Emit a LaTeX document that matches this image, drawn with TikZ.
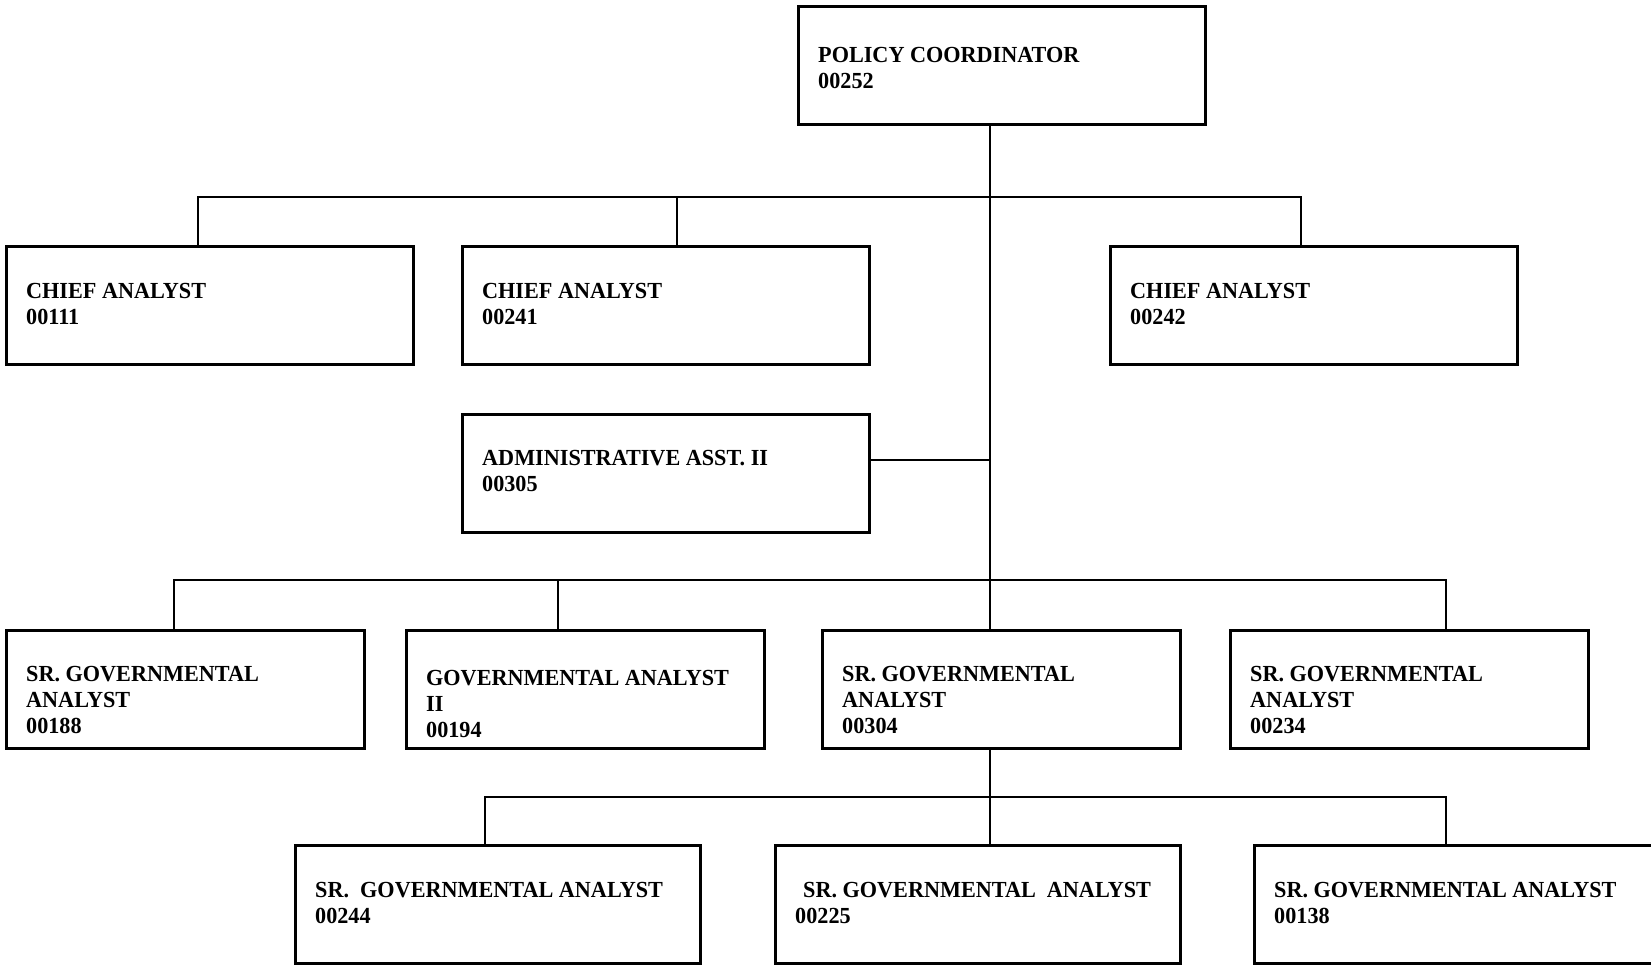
\documentclass[tikz,border=0pt]{standalone}
\usepackage{fontspec}
\setmainfont{Liberation Serif}[FakeStretch=0.965]
\begin{document}
\begin{tikzpicture}[x=1pt,y=-1pt,
  box/.style={draw, line width=2.6pt, anchor=north west, inner sep=0pt,
    minimum width=#1, minimum height=118pt},
  lbl/.style={anchor=north west, align=left, inner sep=0pt,
    font=\bfseries\fontsize{23}{25.8}\selectfont},
  conn/.style={line width=1.8pt}]
\useasboundingbox (0,0) rectangle (1651,965);
% boxes
\node[box=407pt] (top) at (797,5) {};
\node[box=407pt] (ca1) at (5,245) {};
\node[box=407pt] (ca2) at (461,245) {};
\node[box=407pt] (ca3) at (1109,245) {};
\node[box=407pt] (adm) at (461,413) {};
\node[box=358pt] (sga1) at (5,629) {};
\node[box=358pt] (ga2) at (405,629) {};
\node[box=358pt] (sga2) at (821,629) {};
\node[box=358pt] (sga3) at (1229,629) {};
\node[box=405pt] (sga4) at (294,844) {};
\node[box=405pt] (sga5) at (774,844) {};
\node[box=408pt] (sga6) at (1253,844) {};
% texts
\node[lbl] (ttop) at (818,47) {POLICY COORDINATOR\\00252};
\node[lbl] (tca1) at (26,283) {CHIEF ANALYST\\00111};
\node[lbl] (tca2) at (482,283) {CHIEF ANALYST\\00241};
\node[lbl] (tca3) at (1130,283) {CHIEF ANALYST\\00242};
\node[lbl] (tadm) at (482,450) {ADMINISTRATIVE ASST. II\\00305};
\node[lbl] (tsga1) at (26,666) {SR. GOVERNMENTAL\\ANALYST\\00188};
\node[lbl] (tga2) at (426,670) {GOVERNMENTAL ANALYST\\II\\00194};
\node[lbl] (tsga2) at (842,666) {SR. GOVERNMENTAL\\ANALYST\\00304};
\node[lbl] (tsga3) at (1250,666) {SR. GOVERNMENTAL\\ANALYST\\00234};
\node[lbl] (tsga4) at (315,882) {SR.\ \ GOVERNMENTAL ANALYST\\00244};
\node[lbl] (tsga5) at (795,882) {\hspace*{8pt}SR. GOVERNMENTAL\ \ ANALYST\\00225};
\node[lbl] (tsga6) at (1274,882) {SR. GOVERNMENTAL ANALYST\\00138};
% connector points
\coordinate (trunk) at (990,0);
\coordinate (b1L) at (198,197);
\coordinate (b1M) at (677,197);
\coordinate (b1R) at (1301,197);
\coordinate (a1) at (870,460);
\coordinate (b2L) at (174,580);
\coordinate (b2M) at (558,580);
\coordinate (b2R) at (1446,580);
\coordinate (b3L) at (485,797);
\coordinate (b3R) at (1446,797);
% connectors
\draw[conn] (trunk |- top.south) -- (trunk |- sga2.north);
\draw[conn] (b1L |- ca1.north) -- (b1L) -- (b1R) -- (b1R |- ca3.north);
\draw[conn] (b1M) -- (b1M |- ca2.north);
\draw[conn] (a1 -| adm.east) -- (a1 -| trunk);
\draw[conn] (b2L |- sga1.north) -- (b2L) -- (b2R) -- (b2R |- sga3.north);
\draw[conn] (b2M) -- (b2M |- ga2.north);
\draw[conn] (trunk |- sga2.south) -- (trunk |- sga5.north);
\draw[conn] (b3L |- sga4.north) -- (b3L) -- (b3R) -- (b3R |- sga6.north);
\end{tikzpicture}
\end{document}
